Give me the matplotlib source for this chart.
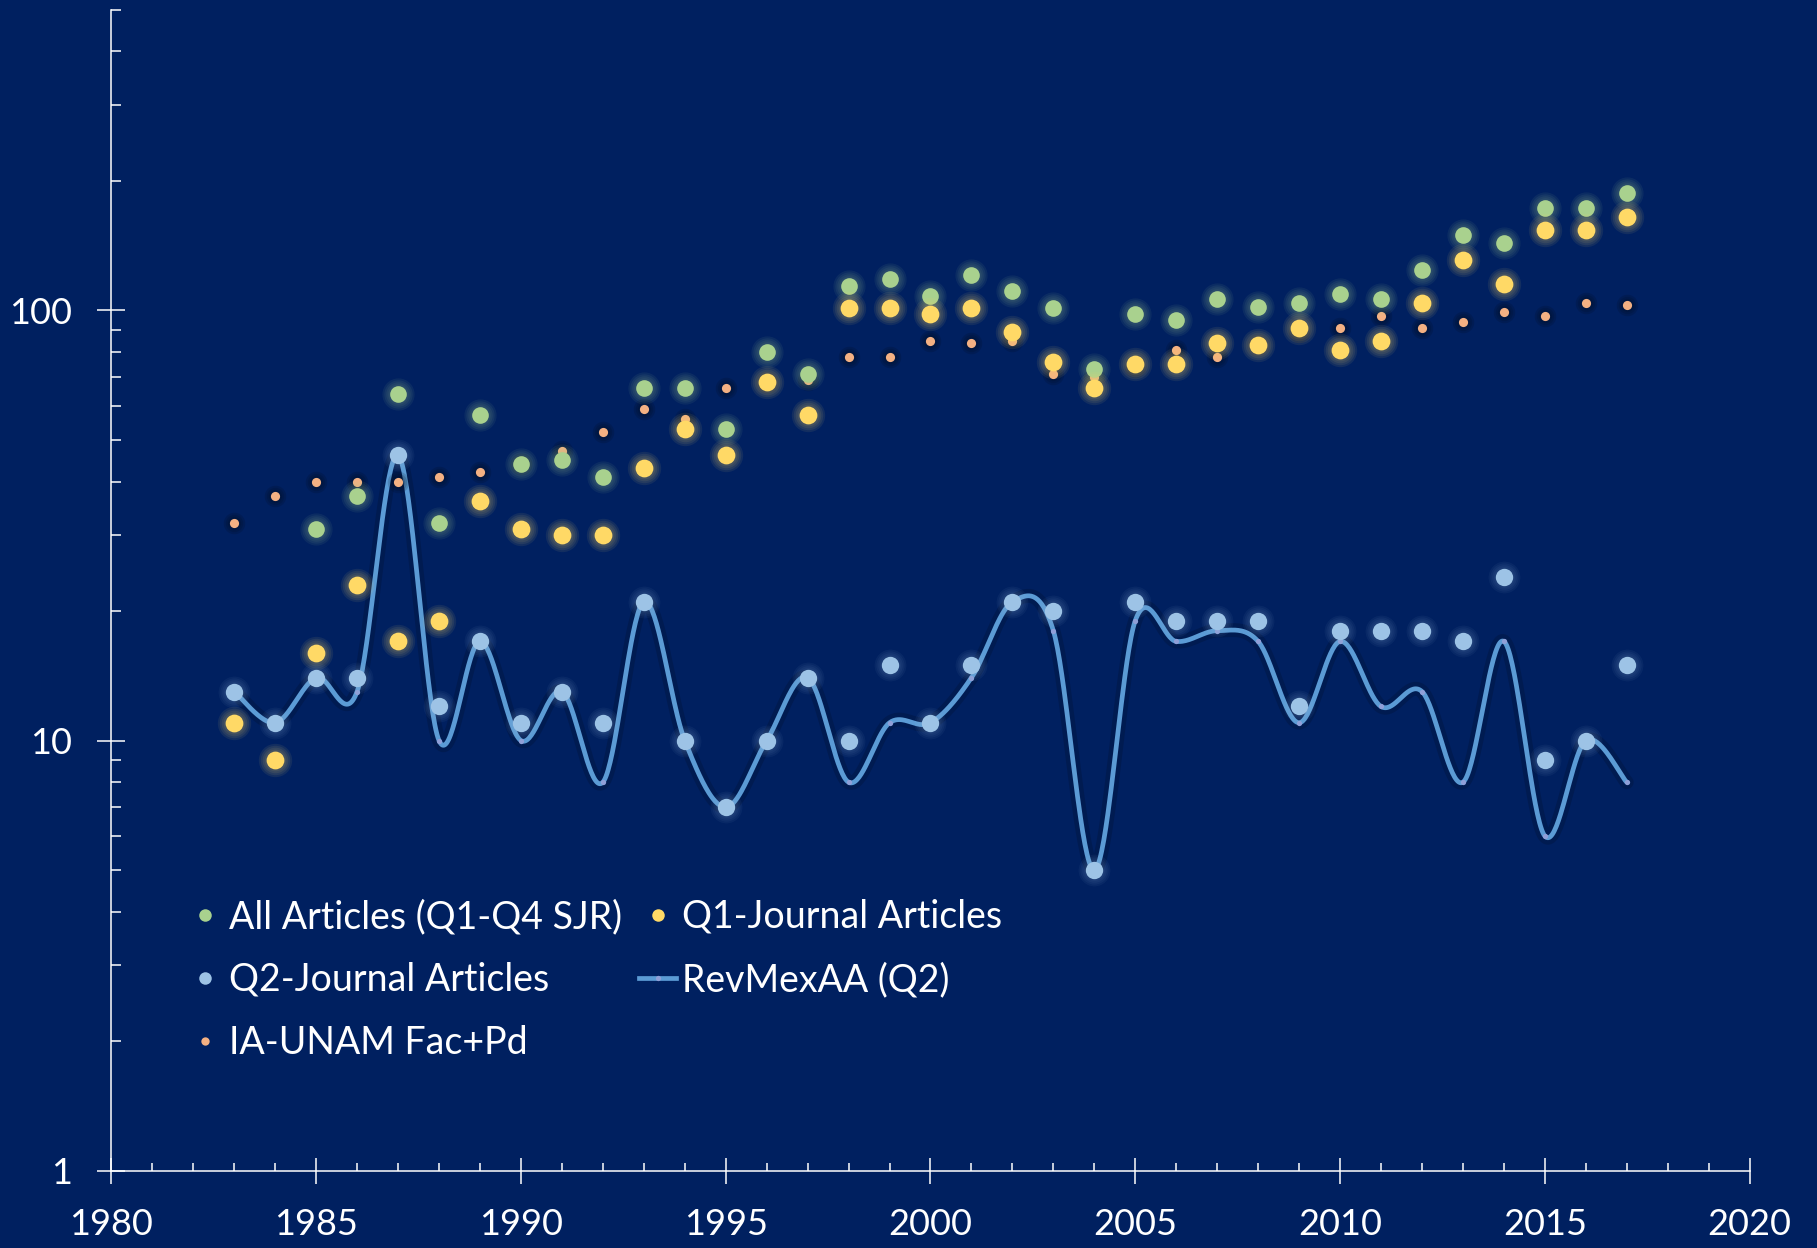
import numpy as np
import matplotlib
matplotlib.use("Agg")
import matplotlib.pyplot as plt
from matplotlib.ticker import LogLocator, FixedLocator, NullFormatter, FuncFormatter

plt.rcParams['font.family'] = ['Lato', 'DejaVu Sans']

years = list(range(1983, 2018))

all_articles = [np.nan, np.nan, 31, 37, 64, 32, 57, 44, 45, 41, 66, 66, 53, 80, 71,
                114, 118, 108, 121, 111, 101, 73, 98, 95, 106, 102, 104, 109, 106,
                124, 150, 143, 173, 173, 187]
q1_articles = [11, 9, 16, 23, 17, 19, 36, 31, 30, 30, 43, 53, 46, 68, 57,
               101, 101, 98, 101, 89, 76, 66, 75, 75, 84, 83, 91, 81, 85,
               104, 131, 115, 154, 154, 165]
q2_articles = [13, 11, 14, 14, 46, 12, 17, 11, 13, 11, 21, 10, 7, 10, 14,
               10, 15, 11, 15, 21, 20, 5, 21, 19, 19, 19, 12, 18, 18,
               18, 17, 24, 9, 10, 15]
revmexaa = [13, 11, 14, 13, 46, 10, 17, 10, 13, 8, 21, 10, 7, 10, 14,
            8, 11, 11, 14, 21, 18, 5, 19, 17, 18, 17, 11, 17, 12,
            13, 8, 17, 6, 10, 8]
ia_unam = [32, 37, 40, 40, 40, 41, 42, 44, 47, 52, 59, 56, 66, 68, 69,
           78, 78, 85, 84, 85, 71, 70, 74, 81, 78, 83, 89, 91, 97,
           91, 94, 99, 97, 104, 103]

labels = ['All Articles (Q1-Q4 SJR)', 'Q1-Journal Articles', 'Q2-Journal Articles',
          'RevMexAA (Q2)', 'IA-UNAM Fac+Pd']

bg = '#002060'
c_green = '#a9d18e'
c_yellow = '#ffd966'
c_q2 = '#9dc3e6'
c_line = '#5b9bd5'
c_orange = '#f4b183'


def smooth_curve(x, y, n=40):
    # Catmull-Rom style bezier through the points, done in (x, log y)
    px = np.asarray(x, float)
    py = np.log10(np.asarray(y, float))
    P = np.column_stack([px, py])
    Pp = np.vstack([P[0], P, P[-1]])
    t = np.linspace(0, 1, n)[:, None]
    out = []
    for i in range(len(P) - 1):
        p0, p1, p2, p3 = Pp[i], Pp[i + 1], Pp[i + 2], Pp[i + 3]
        c1 = p1 + (p2 - p0) / 6
        c2 = p2 - (p3 - p1) / 6
        seg = ((1 - t) ** 3) * p1 + 3 * ((1 - t) ** 2) * t * c1 + 3 * (1 - t) * t ** 2 * c2 + t ** 3 * p2
        out.append(seg if i == 0 else seg[1:])
    out = np.vstack(out)
    return out[:, 0], 10 ** out[:, 1]


def glow(ax, x, y, color, size, alpha=0.07, layers=4, step=2.2, z=2):
    for k in range(layers, 0, -1):
        ax.plot(x, y, 'o', color=color, markersize=size + k * step, alpha=alpha,
                markeredgewidth=0, linestyle='none', zorder=z)


fig = plt.figure(figsize=(18.17, 12.48), dpi=100, facecolor=bg)
ax = fig.add_axes([0.0613, 0.0619, 0.9016, 0.9304], facecolor=bg)
ax.set_yscale('log')

# smoothed RevMexAA line with dark halo
sx, sy = smooth_curve(years, revmexaa)
ax.plot(sx, sy, color='#001030', linewidth=10, alpha=0.3, solid_capstyle='round', zorder=1)
ax.plot(sx, sy, color=c_line, linewidth=3.4, solid_capstyle='round', zorder=2)
ax.plot(years, revmexaa, 'o', color='#8f9fd8', markersize=3.8, markeredgewidth=0, zorder=2.5)

# IA-UNAM small dots with dark halo
glow(ax, years, ia_unam, '#000814', 6.5, alpha=0.15, layers=3, step=3, z=2.6)
ax.plot(years, ia_unam, 'o', color=c_orange, markersize=6.6, markeredgewidth=0, zorder=2.7)

glow(ax, years, all_articles, c_green, 12, alpha=0.07, layers=4, step=2.8, z=3)
ax.plot(years, all_articles, 'o', color=c_green, markersize=12, markeredgewidth=0, zorder=3.1)

glow(ax, years, q1_articles, c_yellow, 12.8, alpha=0.08, layers=4, step=2.8, z=3.2)
ax.plot(years, q1_articles, 'o', color=c_yellow, markersize=12.8, markeredgewidth=0, zorder=3.3)

glow(ax, years, q2_articles, c_q2, 12.5, alpha=0.05, layers=4, step=2.6, z=3.4)
ax.plot(years, q2_articles, 'o', color=c_q2, markersize=12.5, markeredgewidth=0, zorder=3.5)

ax.set_xlim(1980, 2020)
ax.set_ylim(1, 500)

for s in ['top', 'right']:
    ax.spines[s].set_visible(False)
for s in ['left', 'bottom']:
    ax.spines[s].set_color('white')
    ax.spines[s].set_linewidth(1.1)

ax.xaxis.set_major_locator(FixedLocator(range(1980, 2021, 5)))
ax.xaxis.set_minor_locator(FixedLocator(range(1980, 2021, 1)))
ax.yaxis.set_major_locator(FixedLocator([1, 10, 100]))
ax.yaxis.set_minor_locator(LogLocator(base=10, subs=np.arange(2, 10)))
ax.yaxis.set_major_formatter(FuncFormatter(lambda v, p: '%d' % v))
ax.yaxis.set_minor_formatter(NullFormatter())

ax.tick_params(axis='x', which='major', direction='inout', length=19, width=1.1,
               colors='white', labelsize=26, pad=17)
ax.tick_params(axis='x', which='minor', direction='in', length=6, width=1.1, colors='white')
ax.tick_params(axis='y', which='major', direction='inout', length=20, width=1.1,
               colors='white', labelsize=26, pad=18)
ax.tick_params(axis='y', which='minor', direction='in', length=7.5, width=1.1, colors='white')

# legend: row-major order in two columns
h_all = plt.Line2D([], [], marker='o', linestyle='none', color=c_green, markersize=9, markeredgewidth=0)
h_q1 = plt.Line2D([], [], marker='o', linestyle='none', color=c_yellow, markersize=9, markeredgewidth=0)
h_q2 = plt.Line2D([], [], marker='o', linestyle='none', color=c_q2, markersize=9, markeredgewidth=0)
h_rev = plt.Line2D([], [], color=c_line, linewidth=3.4, marker='o', markersize=3.8,
                   markerfacecolor='#8f9fd8', markeredgewidth=0)
h_ia = plt.Line2D([], [], marker='o', linestyle='none', color=c_orange, markersize=6, markeredgewidth=0)

leg = fig.legend([h_all, h_q2, h_ia, h_q1, h_rev],
                 [labels[0], labels[2], labels[4], labels[1], labels[3]],
                 ncol=2, loc='upper left', bbox_to_anchor=(0.1024, 0.2797),
                 frameon=False, fontsize=27, handlelength=1.0, handletextpad=0.14,
                 columnspacing=0.45, labelspacing=0.72, borderpad=0, borderaxespad=0)
for t in leg.get_texts():
    t.set_color('white')

fig.savefig('out.png', dpi=100, facecolor=bg)
